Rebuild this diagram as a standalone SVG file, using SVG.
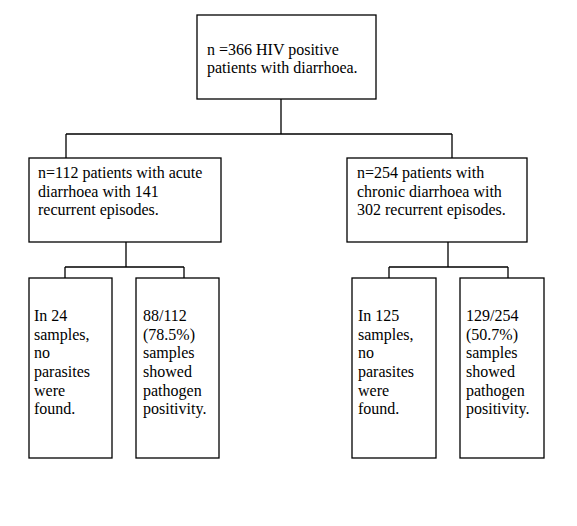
<svg xmlns="http://www.w3.org/2000/svg" width="577" height="526" viewBox="0 0 577 526">
<style>
.box{fill:#fff;stroke:#000;stroke-width:1.3}
.ln{fill:none;stroke:#000;stroke-width:1.3}
.t{font-size:16px;fill:#000}
</style>
<rect width="577" height="526" fill="#fff"/>
<g id="connectors">
<path class="ln" d="M281 99V134M66 134H452M66 134V158M452 134V158"/>
<path class="ln" d="M126 242V267M65 267H184M65 267V278M184 267V278"/>
<path class="ln" d="M448 242V267M389 267H508M389 267V278M508 267V278"/>
</g>
<g class="t" font-family="'Liberation Serif', 'DejaVu Serif', serif">
<g id="root">
<rect class="box" x="197" y="15" width="179" height="84"/>
<text x="207" y="55">n =366 HIV positive</text>
<text x="207" y="73">patients with diarrhoea.</text>
</g>
<g id="acute">
<rect class="box" x="29" y="158" width="192" height="84"/>
<text x="38" y="178">n=112 patients with acute</text>
<text x="38" y="197">diarrhoea with 141</text>
<text x="38" y="215">recurrent episodes.</text>
</g>
<g id="chronic">
<rect class="box" x="347" y="158" width="180" height="84"/>
<text x="357" y="178">n=254 patients with</text>
<text x="357" y="197">chronic diarrhoea with</text>
<text x="357" y="215">302 recurrent episodes.</text>
</g>
<g id="acute-none">
<rect class="box" x="29" y="278" width="83" height="180"/>
<text x="34" y="321">In 24</text>
<text x="34" y="340">samples,</text>
<text x="34" y="358">no</text>
<text x="34" y="377">parasites</text>
<text x="34" y="396">were</text>
<text x="34" y="414">found.</text>
</g>
<g id="acute-pos">
<rect class="box" x="136" y="278" width="83" height="180"/>
<text x="143" y="321">88/112</text>
<text x="143" y="340">(78.5%)</text>
<text x="143" y="358">samples</text>
<text x="143" y="377">showed</text>
<text x="143" y="396">pathogen</text>
<text x="143" y="414">positivity.</text>
</g>
<g id="chronic-none">
<rect class="box" x="352" y="278" width="84" height="180"/>
<text x="358" y="321">In 125</text>
<text x="358" y="340">samples,</text>
<text x="358" y="358">no</text>
<text x="358" y="377">parasites</text>
<text x="358" y="396">were</text>
<text x="358" y="414">found.</text>
</g>
<g id="chronic-pos">
<rect class="box" x="460" y="278" width="84" height="180"/>
<text x="466" y="321">129/254</text>
<text x="466" y="340">(50.7%)</text>
<text x="466" y="358">samples</text>
<text x="466" y="377">showed</text>
<text x="466" y="396">pathogen</text>
<text x="466" y="414">positivity.</text>
</g>
</g>
</svg>
